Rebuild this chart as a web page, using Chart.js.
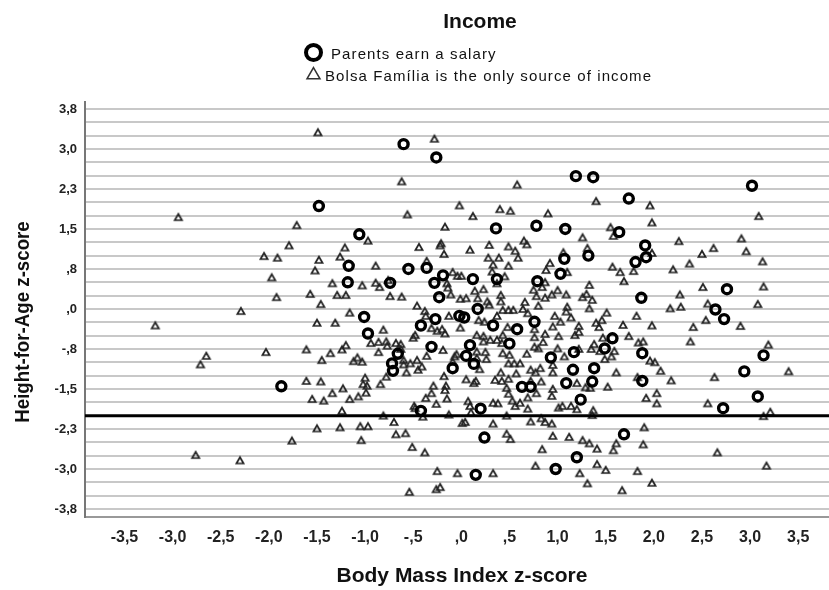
<!DOCTYPE html>
<html>
<head>
<meta charset="utf-8">
<title>Income</title>
<style>
  html, body { margin: 0; background: #fff; }
  canvas { display: block; filter: blur(0.4px); }
</style>
<script src="https://cdn.jsdelivr.net/npm/chart.js@4/dist/chart.umd.min.js"></script>
</head>
<body>
<canvas id="scatterChart" width="829" height="590"></canvas>
<script>
const xTickValues = [-3.5, -3, -2.5, -2, -1.5, -1, -0.5, 0, 0.5, 1, 1.5, 2, 2.5, 3, 3.5];
const xTickLabels = ["-3,5", "-3,0", "-2,5", "-2,0", "-1,5", "-1,0", "-,5", ",0", ",5", "1,0", "1,5", "2,0", "2,5", "3,0", "3,5"];

// one grid line every 0.25, a label on every third
const yTickValues = [-3.75, -3.5, -3.25, -3, -2.75, -2.5, -2.25, -2, -1.75, -1.5, -1.25, -1, -0.75, -0.5, -0.25, 0,
  0.25, 0.5, 0.75, 1, 1.25, 1.5, 1.75, 2, 2.25, 2.5, 2.75, 3, 3.25, 3.5, 3.75];
const yTickLabels = ["-3,8", "", "", "-3,0", "", "", "-2,3", "", "", "-1,5", "", "", "-,8", "", "", ",0",
  "", "", ",8", "", "", "1,5", "", "", "2,3", "", "", "3,0", "", "", "3,8"];

const refLineX = [-3.91, 3.82];
const refLineY = [-2, -2];

const parentsBmi = [-0.60, -0.26, -1.48, 1.19, 1.37, 1.74, 3.02, 1.08, 1.64, 1.91, 1.92, 1.32, 1.07, 1.81, 1.03, 2.76, 1.87, 2.64, 2.73,
  1.57, 1.49, 3.14, 1.17, 1.88, 0.93, 1.16, 1.38, 2.94, 1.88, 1.09, 1.36, 1.24, 3.08, 2.72, 1.69, 1.20, 0.98, -1.87,
  0.36, 0.78, -1.06, -1.17, -0.55, -0.36, -0.19, 0.12, 0.37, -0.28, -0.74, -1.18, 0.79, -0.23, 0.17, -0.02, 0.03, -0.27, -1.01,
  0.33, 0.58, 0.76, -0.42, -0.97, 0.50, 0.09, -0.31, -0.66, 0.05, -0.72, -0.09, 0.13, -0.71, 0.63, 0.72, -0.42, 0.20, 0.24, 0.15];
const parentsHaz = [3.09, 2.84, 1.93, 2.49, 2.47, 2.07, 2.31, 1.50, 1.44, 1.19, 0.97, 1.00, 0.94, 0.88, 0.66, 0.37, 0.21, -0.01, -0.19,
  -0.55, -0.74, -0.87, -0.81, -0.83, -0.91, -1.14, -1.11, -1.17, -1.35, -1.39, -1.36, -1.70, -1.64, -1.86, -2.35, -2.78, -3.00, -1.45,
  1.51, 1.56, 1.40, 0.81, 0.75, 0.77, 0.63, 0.56, 0.56, 0.49, 0.49, 0.50, 0.52, 0.22, 0.00, -0.13, -0.16, -0.19, -0.15,
  -0.31, -0.38, -0.24, -0.31, -0.46, -0.65, -0.68, -0.71, -0.84, -0.88, -1.02, -1.11, -1.03, -1.16, -1.46, -1.46, -1.91, -1.87, -2.41, -3.11];

const bolsaBmi = [-1.49, -0.28, -0.62, 0.58, -0.56, -0.02, 0.12, 0.40, 0.51, 0.90, -2.94, -2.05, -1.91, -1.97, -1.92, -2.29,
  1.40, 1.96, 3.09, 1.98, 1.55, 1.58, 1.26, 2.26, 2.91, 2.62, 2.96, 1.98, 2.50, 1.31, 1.06, 0.92, 2.37, 3.13, 1.57, 1.65, 1.79, 2.20,
  1.10, 1.33, 1.69, 2.51, 3.14, 1.00, 1.09, 0.94, 1.30, 1.26, 1.36, 2.27, 2.56, 3.08, 2.17, 2.28, 1.10, 1.33, 1.09, 1.51, 1.82, 2.54,
  0.97, 1.14, 1.03, 0.95, 1.22, 1.40, 1.46, 1.43, 1.68, 1.98, 2.41, 2.90, 1.22, 1.18, 1.01, 1.47, 1.74, 2.38, 1.84, 1.89, 1.38, 1.35,
  1.44, 1.59, 1.00, 1.22, 3.19, 1.07, 1.56, 1.49, 1.96, 2.01, 0.95, 1.61, 2.07, 3.40, 0.95, 1.83, 2.18, 2.63, 1.20, 1.52, 1.29, 1.34,
  0.95, 2.03, 0.94, 1.92, 2.03, 2.56, 1.05, 1.01, 1.14, 1.20, 1.37, 1.36, 3.21, 3.14, 0.94, 1.90, 0.95, 1.12, 1.26, 1.33, 1.61, 1.89,
  1.41, 1.58, 2.66, 1.41, 3.17, 1.50, 1.83, 1.23, 1.31, 1.98, 1.67,
  -3.18, -2.65, -2.03, -2.71, -2.76, -2.30,
  -1.71, -0.17, -0.97, -1.79, -1.21, -0.44, -0.21, -0.22, 0.29, 0.09, 0.49, 0.65, 0.68, 0.56, 0.59, -0.18, -1.48, -1.26, 0.28, 0.39,
  -0.36, 0.33, 0.49, -0.89, -1.52, 0.88, 0.32, -0.09, 0.00, -0.04, 0.45, 0.37, -0.76, -1.34, -1.03, -0.89, -0.85, -0.15, -0.14, 0.87,
  0.84, 0.75, 0.14, 0.23, -1.57, -1.29, -1.20, -0.74, -0.62, -0.11, -0.01, 0.05, 0.17, 0.41, 0.78, 0.87, -1.46, -0.46, 0.27, 0.41,
  0.66, 0.80, 0.29, -0.38, -0.37, 0.43, 0.49, 0.54, 0.64, 0.69, 0.37, -0.13, -1.16, -1.50, -1.31, 0.18, 0.24, 0.48, 0.76, -0.01,
  -0.31, -0.20, -0.25, -0.17, -0.81, -0.48, -0.50, 0.16, 0.23, 0.43, 0.87, 0.76, 0.23, 0.30, 0.42, 0.37, 0.85, 0.76, 0.80, -0.94,
  -0.86, -0.78, -0.77, -0.68, -0.63, -1.20, -1.24, -1.61, -0.19, -0.63, -0.86, -1.36, 0.43, 0.50, 0.68, 0.25, 0.16, -0.05, -0.36,
  -1.45, -1.08, -1.12, -1.03, -0.60, -0.46, -0.60, -0.53, -0.41, -0.45, -0.09, -0.07, 0.19, 0.26, 0.16, 0.49, 0.55, 0.61, 0.82, 0.72,
  0.77, 0.57, 0.41, -0.18, -0.57, -0.78, -1.00, -1.61, -1.46, -1.02, -0.98, -0.84, -1.23, -0.29, -0.16, 0.05, 0.15, 0.13, 0.35, 0.49,
  0.42, 0.72, 0.83, 0.47,
  -0.17, -0.99, -1.34, -1.55, -1.43, -1.16, -1.07, -0.31, -0.37, -0.15, -0.26, -0.49, -0.48, -0.40, -1.24, -0.81, -0.13, 0.07, 0.09,
  0.10, 0.33, 0.38, 0.49, 0.53, 0.56, 0.61, 0.69, 0.78, 0.69, 0.47, 0.83, 0.87, 0.72, 0.04, 0.01, 0.33, -0.70, -1.50, -1.26, -1.05,
  -0.97, -0.68, -0.58, -1.76, -1.04, -0.51, -0.38, 0.47, 0.51, 0.84, 0.77, -0.25, -0.04, 0.33, -0.22, -0.26, -0.54];
const bolsaHaz = [3.31, 3.19, 2.39, 2.33, 1.77, 1.94, 1.74, 1.87, 1.84, 1.79, 1.72, 0.99, 0.96, 0.59, 0.22, -0.04,
  2.02, 1.94, 1.74, 1.62, 1.53, 1.37, 1.34, 1.27, 1.32, 1.14, 1.08, 1.05, 1.03, 1.14, 1.06, 0.86, 0.85, 0.89, 0.79, 0.69, 0.71, 0.74,
  0.69, 0.45, 0.52, 0.41, 0.42, 0.35, 0.27, 0.27, 0.28, 0.22, 0.17, 0.27, 0.10, 0.09, 0.01, 0.04, 0.04, 0.01, -0.05, -0.07, -0.13, -0.21,
  -0.13, -0.16, -0.24, -0.33, -0.32, -0.26, -0.21, -0.34, -0.30, -0.31, -0.34, -0.32, -0.43, -0.49, -0.51, -0.54, -0.51, -0.61, -0.63, -0.61, -0.66, -0.75,
  -0.79, -0.79, -0.74, -0.75, -0.67, -0.89, -0.89, -0.94, -0.97, -1.00, -1.05, -1.19, -1.16, -1.17, -1.19, -1.28, -1.34, -1.28, -1.39, -1.46, -1.47, -1.48,
  -1.50, -1.58, -1.63, -1.67, -1.77, -1.77, -1.82, -1.85, -1.82, -1.88, -1.90, -1.99, -1.93, -2.01, -2.15, -2.22, -2.38, -2.40, -2.46, -2.52, -2.52, -2.54,
  -2.62, -2.65, -2.69, -2.91, -2.94, -3.02, -3.04, -3.08, -3.27, -3.26, -3.40,
  -0.31, -0.88, -0.81, -1.04, -2.74, -2.84,
  1.57, 1.54, 1.28, 1.19, 1.15, 1.16, 1.23, 1.19, 1.20, 1.11, 1.17, 1.28, 1.21, 1.09, 0.96, 1.03, 0.92, 0.98, 0.96, 0.96,
  0.90, 0.83, 0.81, 0.81, 0.72, 0.73, 0.70, 0.69, 0.62, 0.62, 0.61, 0.48, 0.54, 0.48, 0.44, 0.49, 0.41, 0.48, 0.40, 0.50,
  0.41, 0.36, 0.34, 0.37, 0.28, 0.26, 0.26, 0.24, 0.23, 0.27, 0.19, 0.20, 0.20, 0.26, 0.24, 0.21, 0.09, 0.06, 0.14, 0.14,
  0.13, 0.06, 0.08, -0.04, -0.13, -0.02, -0.02, -0.02, 0.00, -0.08, -0.13, -0.13, -0.07, -0.26, -0.26, -0.21, -0.24, -0.34, -0.38, -0.35,
  -0.36, -0.38, -0.41, -0.46, -0.39, -0.49, -0.54, -0.49, -0.51, -0.49, -0.47, -0.53, -0.61, -0.58, -0.64, -0.58, -0.62, -0.71, -0.74, -0.64,
  -0.62, -0.61, -0.69, -0.64, -0.66, -0.68, -0.76, -0.76, -0.77, -0.75, -0.81, -0.83, -0.83, -0.86, -0.84, -0.81, -0.80, -0.85, -0.88,
  -0.96, -0.91, -0.98, -0.99, -0.96, -0.96, -1.04, -1.02, -1.08, -1.14, -0.99, -0.89, -1.13, -0.94, -0.92, -1.02, -1.02, -1.02, -1.11, -1.14,
  -1.19, -1.21, -1.19, -1.26, -1.19, -1.27, -1.29, -1.35, -1.36, -1.41, -1.44, -1.41, -1.49, -1.44, -1.44, -1.32, -1.35, -1.39, -1.33, -1.31,
  -1.35, -1.35, -1.36, -1.48,
  -1.52, -1.57, -1.58, -1.69, -1.72, -1.69, -1.64, -1.58, -1.67, -1.68, -1.78, -1.82, -1.86, -2.02, -1.91, -2.00, -1.98, -1.73, -1.82,
  -1.94, -1.76, -1.77, -1.59, -1.72, -1.82, -1.76, -1.66, -1.58, -1.87, -2.00, -2.05, -2.12, -2.11, -2.12, -2.14, -2.15, -2.12, -2.24, -2.22, -2.20,
  -2.20, -2.35, -2.33, -2.47, -2.46, -2.59, -2.69, -2.34, -2.44, -2.63, -2.94, -3.04, -3.08, -3.08, -3.34, -3.38, -3.43];

const legendLabels = ["Parents earn a salary", "Bolsa Família is the only source of income"];

function toPoints(xs, ys) {
  return xs.map((x, i) => ({ x: x, y: ys[i] }));
}

// Chart.js centres its triangle on the centroid, the SPSS one sits on its box centre
function triangleMarker() {
  const c = document.createElement("canvas");
  c.width = 12;
  c.height = 12;
  const g = c.getContext("2d");
  g.strokeStyle = "#222";
  g.lineWidth = 1.7;
  g.beginPath();
  g.moveTo(6, 2.8);
  g.lineTo(9.6, 9);
  g.lineTo(2.4, 9);
  g.closePath();
  g.stroke();
  return c;
}

// title, legend and axis titles sit off centre in the original, so they are placed by hand
const headerPlugin = {
  id: "header",
  afterDraw(chart) {
    const ctx = chart.ctx;
    ctx.save();
    ctx.fillStyle = "#111";
    ctx.textBaseline = "middle";

    ctx.textAlign = "center";
    ctx.font = "bold 21px 'Liberation Sans'";
    ctx.fillText("Income", 480, 22.5);

    ctx.textAlign = "left";
    ctx.font = "15px 'Liberation Sans'";
    ctx.letterSpacing = "1.1px";
    ctx.fillText(legendLabels[0], 331, 55);
    ctx.fillText(legendLabels[1], 325, 76.5);
    ctx.letterSpacing = "0px";

    ctx.fillStyle = "rgba(0,0,0,0)";
    ctx.strokeStyle = "#000";
    ctx.lineWidth = 4;
    Chart.helpers.drawPoint(ctx, { pointStyle: "circle", radius: 7.5, borderWidth: 4 }, 313.5, 52.5);
    ctx.strokeStyle = "#333";
    ctx.lineWidth = 1.5;
    Chart.helpers.drawPoint(ctx, { pointStyle: "triangle", radius: 7.5, borderWidth: 1.5 }, 313.5, 75);

    ctx.fillStyle = "#111";
    ctx.textAlign = "center";
    ctx.font = "bold 21px 'Liberation Sans'";
    ctx.fillText("Body Mass Index z-score", 462, 576);
    ctx.translate(23, 322);
    ctx.rotate(-Math.PI / 2);
    ctx.scale(0.89, 1); // the picture is squeezed vertically
    ctx.fillText("Height-for-Age z-score", 0, 0);
    ctx.restore();
  }
};

new Chart(document.getElementById("scatterChart").getContext("2d"), {
  type: "scatter",
  data: {
    datasets: [
      {
        label: "Reference",
        data: toPoints(refLineX, refLineY),
        showLine: true,
        borderColor: "#000",
        borderWidth: 3,
        pointRadius: 0
      },
      {
        label: legendLabels[0],
        data: toPoints(parentsBmi, parentsHaz),
        pointStyle: "circle",
        pointRadius: 4.5,
        pointBorderWidth: 3.4,
        pointBorderColor: "#000",
        pointBackgroundColor: "rgba(0,0,0,0)"
      },
      {
        label: legendLabels[1],
        data: toPoints(bolsaBmi, bolsaHaz),
        pointStyle: triangleMarker(),
        pointRadius: 5
      }
    ]
  },
  plugins: [headerPlugin],
  options: {
    responsive: false,
    animation: false,
    layout: { autoPadding: false, padding: { top: 102, right: 0, left: 0, bottom: 0 } },
    plugins: {
      legend: { display: false },
      title: { display: false },
      tooltip: { enabled: false }
    },
    scales: {
      x: {
        min: refLineX[0],
        max: refLineX[1],
        afterFit: (s) => { s.height = 73; s.paddingLeft = 0; s.paddingRight = 0; },
        afterBuildTicks: (s) => { s.ticks = xTickValues.map((v) => ({ value: v })); },
        border: { color: "#999", width: 2 },
        grid: { display: false, drawTicks: false },
        ticks: {
          autoSkip: false,
          maxRotation: 0,
          padding: 11,
          color: "#222",
          font: { family: "'Liberation Sans'", size: 16, weight: "bold" },
          callback: (v, i) => xTickLabels[i]
        }
      },
      y: {
        min: -3.9,
        max: 3.88,
        afterFit: (s) => { s.width = 85; },
        afterBuildTicks: (s) => { s.ticks = yTickValues.map((v) => ({ value: v })); },
        border: { color: "#777", width: 2 },
        grid: { color: "#c8c8c8", lineWidth: 2, drawTicks: false },
        ticks: {
          autoSkip: false,
          padding: 8,
          color: "#222",
          font: { family: "'Liberation Sans'", size: 13, weight: "bold" },
          callback: (v, i) => yTickLabels[i]
        }
      }
    }
  }
});
</script>
</body>
</html>
